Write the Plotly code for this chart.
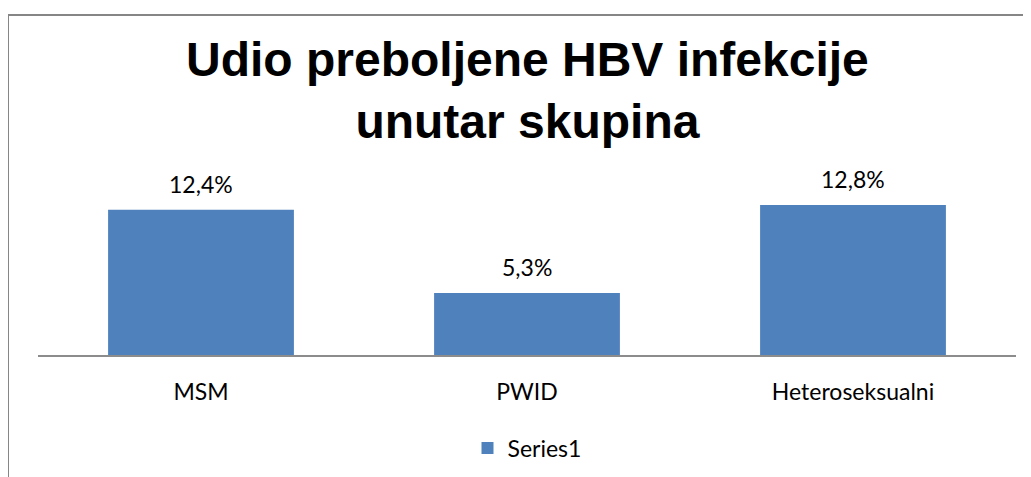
import plotly.graph_objects as go

# data
categories = ["MSM", "PWID", "Heteroseksualni"]
values = [12.4, 5.3, 12.8]
labels = ["12,4%", "5,3%", "12,8%"]
series_name = "Series1"

title_text = "<b>Udio preboljene HBV infekcije<br>unutar skupina</b>"

# the page body has an 8px default margin, so the figure is made 8px smaller
W, H = 1023, 469

fig = go.Figure()
fig.add_trace(go.Bar(
    x=categories,
    y=values,
    name=series_name,
    marker=dict(color="#4F81BD", line=dict(width=0)),
    showlegend=True,
))

# value labels above the bars
for c, v, t in zip(categories, values, labels):
    fig.add_annotation(
        x=c, y=v, text=t, showarrow=False,
        xref="x", yref="y", yanchor="bottom", yshift=10,
        font=dict(family="Lato", size=23, color="#000000"),
    )

fig.update_layout(
    width=W,
    height=H,
    autosize=False,
    margin=dict(l=30, r=15, t=183, b=122, autoexpand=False),
    paper_bgcolor="white",
    plot_bgcolor="white",
    bargap=0.43,
    legend=dict(
        orientation="h",
        x=0.5, xanchor="center",
        y=-0.567, yanchor="middle",
        font=dict(family="Lato", size=23, color="#000000"),
    ),
    font=dict(family="Lato", size=23, color="#000000"),
)

# title as annotation so its placement is predictable
fig.add_annotation(
    text=title_text, showarrow=False,
    xref="paper", yref="paper",
    x=0.5, xanchor="center",
    y=1 + (191 - 150) / 164, yanchor="bottom",
    font=dict(family="Liberation Sans", size=48, color="#000000"),
)

fig.update_xaxes(
    showline=True, linecolor="#8C8C8C", linewidth=2,
    ticks="outside", ticklen=15, tickcolor="rgba(0,0,0,0)",
    tickfont=dict(family="Lato", size=23, color="#000000"),
    showgrid=False,
)
fig.update_yaxes(
    range=[0, 14], visible=False, showgrid=False, zeroline=False,
)

# chart border (extends past the right and bottom edges)
fig.add_shape(
    type="rect", xref="paper", yref="paper",
    x0=-30 / 978, x1=1.1, y0=-1.0, y1=1 + 176 / 164,
    line=dict(color="#868686", width=2),
    fillcolor="rgba(0,0,0,0)", layer="below",
)

fig.write_html("out.html")
